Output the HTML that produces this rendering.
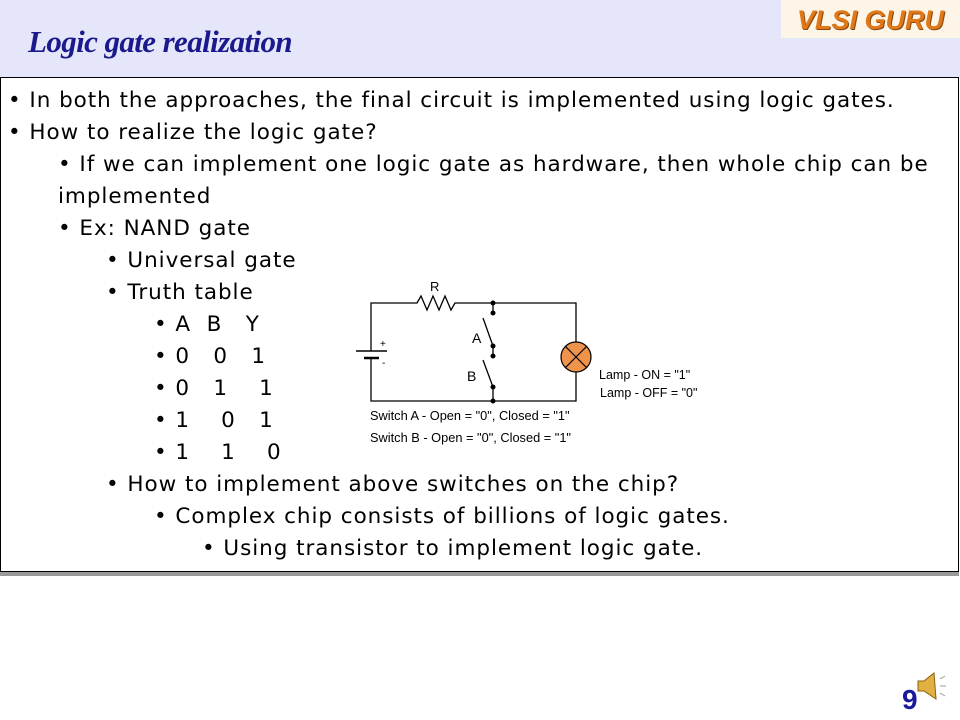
<!DOCTYPE html>
<html><head><meta charset="utf-8"><style>
body{margin:0;width:960px;height:720px;background:#fff;position:relative;overflow:hidden;font-family:"DejaVu Sans","Liberation Sans",sans-serif}
.hdr{position:absolute;left:0;top:0;width:960px;height:78px;background:#e6e6fa}
.title{position:absolute;left:28px;top:24px;font-family:"Liberation Serif",serif;font-style:italic;font-weight:bold;font-size:31px;color:#1a1a8c;letter-spacing:-0.6px}
.logo{position:absolute;left:781px;top:0;width:179px;height:38px;background:#fdf5e8;color:#e07818;font-family:"Liberation Sans",sans-serif;font-weight:bold;font-style:italic;font-size:27px;line-height:40px;text-align:center;text-shadow:1px 1px 0 #8a4a10}
.box{position:absolute;left:0;top:77px;width:957px;height:493px;border:1px solid #000;box-shadow:0 4px 0 #999;background:#fff}
.l{position:absolute;font-size:21.5px;letter-spacing:0.95px;color:#000;white-space:nowrap;line-height:32px}
.pg{position:absolute;left:902px;top:684px;font-family:"Liberation Sans",sans-serif;font-size:28px;font-weight:bold;color:#1a1a9c}
</style></head><body>
<div class="hdr"></div>
<div class="title">Logic gate realization</div>
<div class="logo">VLSI GURU</div>
<div class="box"></div>
<div class="l" style="left:8px;top:85px">• In both the approaches, the final circuit is implemented using logic gates.</div>
<div class="l" style="left:8px;top:117px">• How to realize the logic gate?</div>
<div class="l" style="left:58px;top:149px">• If we can implement one logic gate as hardware, then whole chip can be</div>
<div class="l" style="left:58px;top:181px">implemented</div>
<div class="l" style="left:58px;top:213px">• Ex: NAND gate</div>
<div class="l" style="left:106px;top:245px">• Universal gate</div>
<div class="l" style="left:106px;top:277px">• Truth table</div>
<div class="l" style="left:154px;top:309px">• A&nbsp; B&nbsp;&nbsp; Y</div>
<div class="l" style="left:154px;top:341px">• 0&nbsp;&nbsp; 0&nbsp;&nbsp; 1</div>
<div class="l" style="left:154px;top:373px">• 0&nbsp;&nbsp; 1&nbsp;&nbsp;&nbsp; 1</div>
<div class="l" style="left:154px;top:405px">• 1&nbsp;&nbsp;&nbsp; 0&nbsp;&nbsp; 1</div>
<div class="l" style="left:154px;top:437px">• 1&nbsp;&nbsp;&nbsp; 1&nbsp;&nbsp;&nbsp; 0</div>
<div class="l" style="left:106px;top:469px">• How to implement above switches on the chip?</div>
<div class="l" style="left:154px;top:501px">• Complex chip consists of billions of logic gates.</div>
<div class="l" style="left:202px;top:533px">• Using transistor to implement logic gate.</div>
<svg style="position:absolute;left:0;top:0" width="960" height="720">
<g stroke="#000" stroke-width="1.3" fill="none">
<polyline points="371,351 371,303 417,303 421,296 427,310 433,296 439,310 445,296 451,310 455,303 576,303 576,342"/>
<polyline points="371,358 371,401 576,401 576,372"/>
<line x1="493" y1="303" x2="493" y2="313"/>
<line x1="493" y1="346" x2="493" y2="356"/>
<line x1="493" y1="387" x2="493" y2="401"/>
<line x1="483" y1="318" x2="493" y2="346"/>
<line x1="483" y1="360" x2="493" y2="387"/>
<line x1="356" y1="351" x2="387" y2="351" stroke-width="1.6"/>
<line x1="364" y1="358" x2="379" y2="358" stroke-width="2.5"/>
</g>
<g fill="#000"><circle cx="493" cy="303" r="2.5"/><circle cx="493" cy="313" r="2.5"/><circle cx="493" cy="346" r="2.5"/><circle cx="493" cy="356" r="2.5"/><circle cx="493" cy="387" r="2.5"/><circle cx="493" cy="401" r="2.5"/></g>
<circle cx="576" cy="357" r="15" fill="#f0944c" stroke="#000" stroke-width="1.2"/>
<line x1="565" y1="346" x2="587" y2="368" stroke="#000" stroke-width="1.2"/>
<line x1="587" y1="346" x2="565" y2="368" stroke="#000" stroke-width="1.2"/>
<g font-family="Liberation Sans,sans-serif" fill="#000">
<text x="430" y="291" font-size="13">R</text>
<text x="472" y="343" font-size="14">A</text>
<text x="467" y="381" font-size="14">B</text>
<text x="380" y="347" font-size="10">+</text>
<text x="382" y="366" font-size="10">-</text>
<text x="599" y="379" font-size="12.5">Lamp - ON = "1"</text>
<text x="600" y="397" font-size="12.5">Lamp - OFF = "0"</text>
<text x="370" y="420" font-size="12.8">Switch A - Open = "0", Closed = "1"</text>
<text x="370" y="442" font-size="12.8">Switch B - Open = "0", Closed = "1"</text>
</g>
<g transform="translate(914,673)">
<polygon points="4,8 10,8 20,0 22,26 10,18 4,18" fill="#e2b040" stroke="#8a6010" stroke-width="1"/>
<g stroke="#999" stroke-width="1"><line x1="26" y1="6" x2="31" y2="3"/><line x1="26" y1="13" x2="32" y2="13"/><line x1="26" y1="20" x2="31" y2="23"/></g>
</g>
</svg>
<div class="pg">9</div>
</body></html>
